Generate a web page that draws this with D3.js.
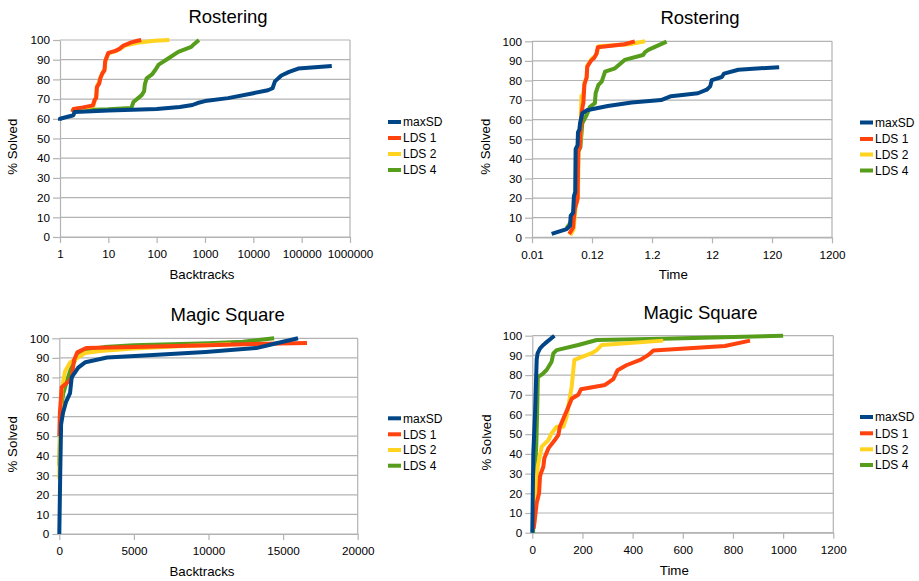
<!DOCTYPE html>
<html>
<head>
<meta charset="utf-8">
<script src="https://cdn.jsdelivr.net/npm/d3@7"></script>
<style>
  body { margin: 0; background: #fff; }
  svg { display: block; }
  text { font-family: "Liberation Sans", Arial, sans-serif; fill: #000; }
</style>
</head>
<body>
<svg id="chart" width="919" height="581"></svg>
<script>
// ---- Shared labels / ticks ----
const seriesNames = ["maxSD", "LDS 1", "LDS 2", "LDS 4"];
const yTicks = [0, 10, 20, 30, 40, 50, 60, 70, 80, 90, 100];

const rosterBacktrackTicks = [1, 10, 100, 1000, 10000, 100000, 1000000];
const rosterBacktrackTickLabels = ["1", "10", "100", "1000", "10000", "100000", "1000000"];
const rosterTimeTicks = [0.012, 0.12, 1.2, 12, 120, 1200];
const rosterTimeTickLabels = ["0.01", "0.12", "1.2", "12", "120", "1200"];
const magicBacktrackTicks = [0, 5000, 10000, 15000, 20000];
const magicTimeTicks = [0, 200, 400, 600, 800, 1000, 1200];

// ---- Rostering: % solved vs backtracks ----
const rosterBtMaxSD = [[1,59],[1,60],[1.9,61.8],[2,63.5],[10,64.2],[100,65],[300,66],[550,67],[700,68],[1000,69],[3000,70.5],[10000,73],[20000,74.5],[25000,75.5],[28000,79],[38000,82],[55000,83.8],[85000,85.5],[420000,86.8]];
const rosterBtLDS1 = [[1.8,63.5],[1.9,65],[3,65.8],[4.8,66.8],[5.2,69.5],[5.6,70.5],[5.8,76],[6.5,78],[6.8,80.5],[7.5,83],[8.3,84.5],[8.6,89],[9,90.5],[10,93.5],[14,94.5],[17,95.5],[20,97],[30,98.8],[40,99.6],[48,100]];
const rosterBtLDS2 = [[1.8,63.5],[1.9,64.8],[3,65.5],[4.9,66.5],[5.3,70],[5.6,71],[5.8,76.5],[6.4,78.5],[6.9,81],[7.6,83.5],[8.4,85],[8.7,89.5],[9.2,91],[10.2,93.3],[14,94.3],[17,95.3],[22,97.2],[40,98.6],[90,99.6],[183,100]];
const rosterBtLDS4 = [[1.8,63.3],[2,64.2],[10,64.8],[30,65.5],[33,68.5],[49,72],[55,74],[57,77.5],[62,80.5],[80,82.5],[95,85],[110,87.5],[170,90.5],[280,94],[520,96.5],[600,98],[750,100]];

// ---- Rostering: % solved vs time ----
const rosterTimeMaxSD = [[0.0255,1.7],[0.0454,4.2],[0.0516,6],[0.053,11],[0.058,12.5],[0.06,21],[0.063,23],[0.064,45],[0.069,47],[0.07,53.5],[0.074,55],[0.076,58.5],[0.083,63.3],[0.098,64.8],[0.22,67],[0.55,68.8],[1.7,70],[2.5,72],[7,73.5],[9.8,75.3],[11.2,77],[11.9,80.2],[17.5,81.8],[19,83.5],[33,85.5],[158,86.8]];
const rosterTimeLDS1 = [[0.05,1.7],[0.058,5],[0.059,8],[0.0625,15],[0.067,18],[0.069,20],[0.0708,43.7],[0.075,46],[0.0757,49],[0.081,64],[0.084,67],[0.0862,68.5],[0.0896,78],[0.094,80],[0.0977,81.5],[0.1,87],[0.115,90],[0.13,91.5],[0.142,93.5],[0.15,97],[0.42,98.5],[0.62,100]];
const rosterTimeLDS2 = [[0.052,1],[0.059,4],[0.061,8.5],[0.064,16],[0.07,20],[0.0715,44],[0.077,50],[0.079,65],[0.08,72],[0.086,73],[0.09,79],[0.097,81],[0.1,87.5],[0.118,91],[0.132,92],[0.145,94],[0.155,97.5],[0.5,98.5],[0.92,100]];
const rosterTimeLDS4 = [[0.045,4.5],[0.054,8],[0.06,12],[0.066,18.2],[0.069,20],[0.0708,43.7],[0.077,46],[0.0826,58.2],[0.0977,62.4],[0.111,66.6],[0.134,68.4],[0.138,73.5],[0.153,77.7],[0.174,79.4],[0.198,84.5],[0.29,86.2],[0.42,90.5],[0.85,93],[0.92,94.5],[1.04,95.6],[2.1,99.8]];

// ---- Magic Square: % solved vs backtracks ----
const magicBtMaxSD = [[0,0],[60,30],[120,56],[250,62],[450,67.5],[720,72],[830,80],[1000,82],[1270,85],[1750,87.8],[3200,90.2],[6000,91.3],[9800,93],[13200,95],[14200,96.8],[16000,100]];
const magicBtLDS1 = [[0,50],[40,62],[160,75],[600,77.8],[830,80],[985,88.8],[1200,92.8],[1800,95],[5000,95.6],[10000,96.5],[13000,97.1],[16600,97.6]];
const magicBtLDS2 = [[0,28],[40,50],[150,73],[380,83],[720,87.5],[1170,89.8],[1720,92.5],[2730,93.5],[4960,94.8],[8000,96],[11500,97]];
const magicBtLDS4 = [[0,35],[60,55],[150,66],[270,72],[500,78],[800,85],[1200,91],[1600,94],[3000,95.5],[5000,96.4],[10000,97.5],[12300,98.3],[14400,100]];

// ---- Magic Square: % solved vs time ----
const magicTimeMaxSD = [[0,0],[4,40],[11,61],[17.5,88],[21,91],[31,93.6],[44,95.3],[51,96.1],[88,100]];
const magicTimeLDS1 = [[5,2],[7,3.5],[17.5,15],[27,20],[30.7,28.4],[34,30],[44,33.5],[48,37.8],[64,42.8],[90,47],[104,49.6],[110,53.8],[124,58],[141,63],[157,68],[183,70],[194,72.8],[290,75],[323,78],[340,82.5],[375,85],[430,87.7],[460,90],[483,92.5],[768,94.8],[868,97.5]];
const magicTimeLDS2 = [[8,5],[11,16.6],[21.5,33.5],[37.5,43.7],[64,47],[77,50.5],[97,53.8],[124,53.8],[137,58.9],[150,69],[157,74.1],[167.5,87.7],[237,91.1],[257,92.7],[277,95.3],[522,97.5]];
const magicTimeLDS4 = [[3,0],[10,30],[16,45],[20,65],[22,79],[40,80.5],[57,82.6],[77,86.8],[84,91],[97,92.7],[183,95.3],[257,97.8],[520,98.5],[1000,100]];

// ---- Styling ----
const colors = ["#004586", "#ff420e", "#ffd320", "#579d1c"];
const gridColor = "#b3b3b3";

const svg = d3.select("#chart");

const panels = [
  {
    title: "Rostering", xTitle: "Backtracks",
    scale: d3.scaleLog(), domain: [1, 1000000],
    ticks: rosterBacktrackTicks, tickLabels: rosterBacktrackTickLabels,
    series: [rosterBtMaxSD, rosterBtLDS1, rosterBtLDS2, rosterBtLDS4],
    box: { l: 60, r: 350, t: 40, b: 237 },
    titleAt: [228, 22.7], xTitleAt: [202, 279], yTitleAt: [17.3, 146.7],
    legend: { x0: 388, x1: 401, tx: 403, ys: [122, 138, 154, 170] }
  },
  {
    title: "Rostering", xTitle: "Time",
    scale: d3.scaleLog(), domain: [0.012, 1200],
    ticks: rosterTimeTicks, tickLabels: rosterTimeTickLabels,
    series: [rosterTimeMaxSD, rosterTimeLDS1, rosterTimeLDS2, rosterTimeLDS4],
    box: { l: 532, r: 832, t: 41.3, b: 237.3 },
    titleAt: [700, 24.3], xTitleAt: [673.3, 279.3], yTitleAt: [490, 146.7],
    legend: { x0: 860, x1: 873, tx: 875, ys: [122.5, 139, 154.5, 170.5] }
  },
  {
    title: "Magic Square", xTitle: "Backtracks",
    scale: d3.scaleLinear(), domain: [0, 20000],
    ticks: magicBacktrackTicks, tickLabels: magicBacktrackTicks.map(String),
    series: [magicBtMaxSD, magicBtLDS1, magicBtLDS2, magicBtLDS4],
    box: { l: 59.3, r: 357.7, t: 338.3, b: 534 },
    titleAt: [227.7, 321], xTitleAt: [202, 575.7], yTitleAt: [17.3, 444.3],
    legend: { x0: 388, x1: 401, tx: 403, ys: [418.3, 434.3, 450, 465.7] }
  },
  {
    title: "Magic Square", xTitle: "Time",
    scale: d3.scaleLinear(), domain: [0, 1200],
    ticks: magicTimeTicks, tickLabels: magicTimeTicks.map(String),
    series: [magicTimeMaxSD, magicTimeLDS1, magicTimeLDS2, magicTimeLDS4],
    box: { l: 532.3, r: 833.3, t: 335.7, b: 532.7 },
    titleAt: [700.5, 319], xTitleAt: [674.3, 575], yTitleAt: [491, 442.5],
    legend: { x0: 860, x1: 873, tx: 875, ys: [417, 433.3, 449.3, 465] }
  }
];

panels.forEach(p => {
  const { l, r, t, b } = p.box;
  const x = p.scale.domain(p.domain).range([l, r]);
  const y = d3.scaleLinear().domain([0, 100]).range([b, t]);
  const g = svg.append("g");

  // horizontal grid lines
  g.selectAll("line.grid").data(yTicks).join("line")
    .attr("x1", l).attr("x2", r)
    .attr("y1", d => y(d)).attr("y2", d => y(d))
    .attr("stroke", gridColor).attr("stroke-width", 1.2);

  // right frame edge
  g.append("line").attr("x1", r).attr("x2", r).attr("y1", t).attr("y2", b)
    .attr("stroke", gridColor).attr("stroke-width", 1.2);

  // y axis
  const yAxis = g.append("g").attr("transform", `translate(${l},0)`)
    .call(d3.axisLeft(y).tickValues(yTicks).tickSize(7).tickPadding(3).tickSizeOuter(0));
  // x axis
  const labelOf = new Map(p.ticks.map((v, i) => [v, p.tickLabels[i]]));
  const xAxis = g.append("g").attr("transform", `translate(0,${b})`)
    .call(d3.axisBottom(x).tickValues(p.ticks).tickFormat(d => labelOf.get(d))
      .tickSize(6).tickPadding(7).tickSizeOuter(0));

  [yAxis, xAxis].forEach(a => {
    a.attr("font-family", null).attr("font-size", null);
    a.select(".domain").attr("stroke", gridColor).attr("stroke-width", 1.2);
    a.selectAll(".tick line").attr("stroke", gridColor).attr("stroke-width", 1.2);
    a.selectAll(".tick text").style("font-size", "11.7px").attr("fill", "#000");
  });

  // series lines, last series drawn first
  const line = d3.line().x(d => x(d[0])).y(d => y(d[1]));
  const order = [3, 2, 1, 0];
  order.forEach(i => {
    g.append("path").datum(p.series[i])
      .attr("d", line)
      .attr("fill", "none")
      .attr("stroke", colors[i])
      .attr("stroke-width", 4)
      .attr("stroke-linejoin", "round");
  });

  // titles
  g.append("text").attr("x", p.titleAt[0]).attr("y", p.titleAt[1])
    .attr("text-anchor", "middle").style("font-size", "18.5px").text(p.title);
  g.append("text").attr("x", p.xTitleAt[0]).attr("y", p.xTitleAt[1])
    .attr("text-anchor", "middle").style("font-size", "13.3px").text(p.xTitle);
  g.append("text")
    .attr("transform", `translate(${p.yTitleAt[0]},${p.yTitleAt[1]}) rotate(-90)`)
    .attr("text-anchor", "middle").style("font-size", "13.3px").text("% Solved");

  // legend
  const lg = g.append("g");
  seriesNames.forEach((name, i) => {
    const yy = p.legend.ys[i];
    lg.append("line").attr("x1", p.legend.x0).attr("x2", p.legend.x1)
      .attr("y1", yy).attr("y2", yy)
      .attr("stroke", colors[i]).attr("stroke-width", 4);
    lg.append("text").attr("x", p.legend.tx).attr("y", yy + 4.3)
      .style("font-size", "12px").text(name);
  });
});
</script>
</body>
</html>
